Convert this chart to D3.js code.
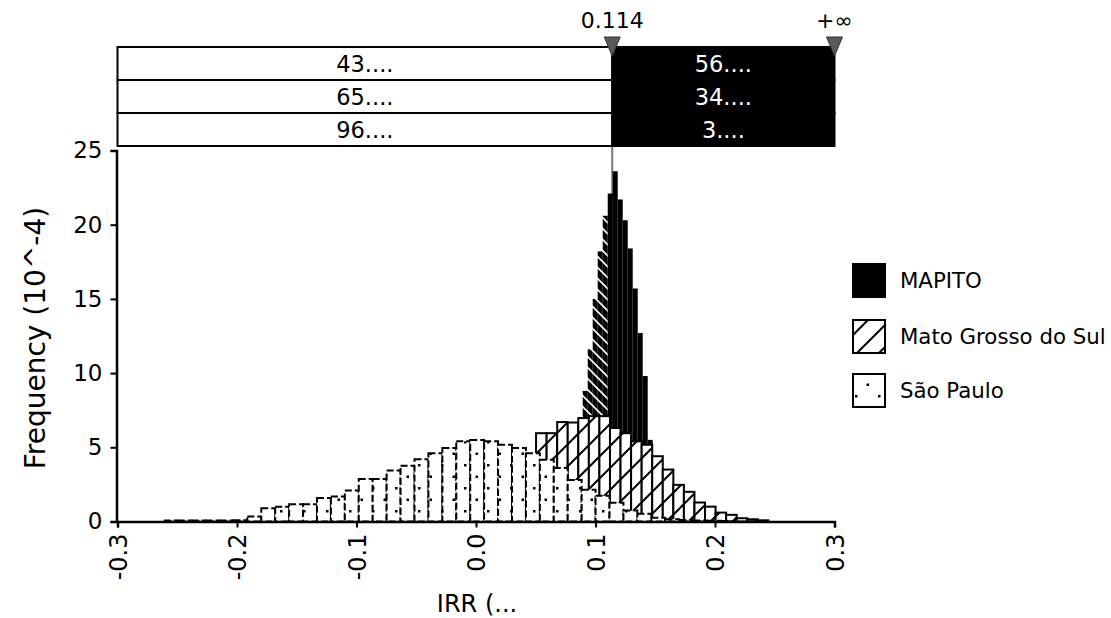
<!DOCTYPE html>
<html><head><meta charset="utf-8">
<script src="https://cdn.jsdelivr.net/npm/d3@7"></script>
<style>
html,body{margin:0;padding:0;background:#fff;}
text{font-family:"DejaVu Sans",Verdana,sans-serif;}
</style></head>
<body><svg id="c" width="1111" height="618"></svg>
<script>
// ---------------- DATA ----------------
const seriesNames = ["MAPITO", "Mato Grosso do Sul", "São Paulo"];
// histogram bins: first bin left edge (IRR), bin width (IRR), heights (10^-4)
const mapitoStart = 0.0642, mapitoWidth = 0.004184;
const mapitoValues = [0.8,1.2,1.8,2.7,4.2,6.5,8.8,11.6,15.0,18.2,20.6,22.1,23.6,21.7,20.3,18.4,15.7,12.7,9.8,5.5,3.2,1.8,1.0,0.6,0.35,0.2,0.1];
const mgsStart = -0.04695, mgsWidth = 0.008837;
const mgsValues = [0.05,0.12,0.3,0.6,1.0,1.5,2.0,2.6,3.2,3.8,4.4,5.95,5.95,6.7,6.67,6.97,7.1,7.1,6.3,5.95,5.4,5.17,4.4,3.5,2.47,2.0,1.28,1.0,0.6,0.45,0.22,0.15,0.08];
const spStart = -0.2613, spWidth = 0.011657;
const spValues = [0.06,0.06,0.06,0.06,0.07,0.08,0.34,0.9,1.0,1.17,1.17,1.58,1.69,2.09,2.86,2.86,3.44,3.75,4.2,4.6,4.95,5.4,5.5,5.4,5.17,4.95,4.6,4.16,3.6,2.8,2.14,1.73,1.27,0.74,0.52,0.25,0.15,0.1,0.07,0.05,0.03];
const xTicks = [-0.3,-0.2,-0.1,0.0,0.1,0.2,0.3];
const xTickLabels = ["-0.3","-0.2","-0.1","0.0","0.1","0.2","0.3"];
const yTicks = [0,5,10,15,20,25];
const delimiters = [0.114, 0.3];
const delimiterLabels = ["0.114", "+\u221E"];
const tableLeft = ["43....","65....","96...."];
const tableRight = ["56....","34....","3...."];
const xTitle = "IRR (...";
const yTitle = "Frequency (10^-4)";

// ---------------- CHART ----------------
const svg = d3.select("#c");
const x = d3.scaleLinear().domain([-0.3,0.3]).range([117.5,834.5]);
const y = d3.scaleLinear().domain([0,25]).range([521.5,150.5]);

const defs = svg.append("defs");
const hp = 22;
const ph = defs.append("pattern").attr("id","hatch").attr("patternUnits","userSpaceOnUse").attr("width",hp).attr("height",hp);
ph.append("rect").attr("width",hp).attr("height",hp).attr("fill","#fff");
ph.append("path").attr("d",`M-4,4 L4,-4 M0,${hp} L${hp},0 M${hp-4},${hp+4} L${hp+4},${hp-4}`).attr("stroke","#000").attr("stroke-width",2);
const pd = defs.append("pattern").attr("id","dots").attr("patternUnits","userSpaceOnUse").attr("width",23).attr("height",23);
pd.append("rect").attr("width",23).attr("height",23).attr("fill","#fff");
pd.append("rect").attr("x",4).attr("y",4).attr("width",2.5).attr("height",2.5).attr("fill","#000");
pd.append("rect").attr("x",15.5).attr("y",15.5).attr("width",2.5).attr("height",2.5).attr("fill","#000");
const ps = defs.append("pattern").attr("id","stripe").attr("patternUnits","userSpaceOnUse").attr("width",11).attr("height",11);
ps.append("rect").attr("width",11).attr("height",11).attr("fill","#000");
ps.append("path").attr("d","M-2,-2 L13,13 M-2,9 L2,13 M9,-2 L13,2").attr("stroke","#fff").attr("stroke-width",1.6);

// delimiter line (behind bars)
svg.append("line").attr("x1",x(delimiters[0])).attr("x2",x(delimiters[0]))
  .attr("y1",146).attr("y2",y(0)).attr("stroke","#777").attr("stroke-width",2);

function bins(start,width,vals){
  return vals.map((v,i)=>({x0:start+i*width, x1:start+(i+1)*width, v:v}));
}
// MAPITO (back)
svg.append("g").selectAll("rect").data(bins(mapitoStart,mapitoWidth,mapitoValues)).join("rect")
  .attr("x",d=>x(d.x0)).attr("width",d=>x(d.x1)-x(d.x0))
  .attr("y",d=>y(d.v)).attr("height",d=>y(0)-y(d.v))
  .attr("fill",d=>d.x1 <= delimiters[0] ? "url(#stripe)" : "#000");
// Mato Grosso do Sul
svg.append("g").selectAll("rect").data(bins(mgsStart,mgsWidth,mgsValues)).join("rect")
  .attr("x",d=>x(d.x0)).attr("width",d=>x(d.x1)-x(d.x0))
  .attr("y",d=>y(d.v)).attr("height",d=>y(0)-y(d.v))
  .attr("fill","url(#hatch)").attr("stroke","#000").attr("stroke-width",2);
// São Paulo (front)
svg.append("g").selectAll("rect").data(bins(spStart,spWidth,spValues)).join("rect")
  .attr("x",d=>x(d.x0)).attr("width",d=>x(d.x1)-x(d.x0))
  .attr("y",d=>y(d.v)).attr("height",d=>y(0)-y(d.v))
  .attr("fill","url(#dots)").attr("stroke","#000").attr("stroke-width",2).attr("stroke-dasharray","7,3");

// axes
const xa = svg.append("g").attr("transform",`translate(0,${y(0)})`)
  .call(d3.axisBottom(x).tickValues(xTicks).tickSize(6).tickFormat((d,i)=>xTickLabels[i]));
xa.select(".domain").attr("stroke-width",2.5);
xa.selectAll(".tick line").attr("stroke-width",2);
xa.selectAll(".tick text").attr("font-size",24).attr("font-family","DejaVu Sans")
  .attr("transform","rotate(-90)").attr("text-anchor","end").attr("x",-12).attr("y",0).attr("dy","0.36em");
const ya = svg.append("g").attr("transform",`translate(${x(-0.3)-1},0)`)
  .call(d3.axisLeft(y).tickValues(yTicks).tickSize(6));
ya.select(".domain").attr("stroke-width",2.5);
ya.selectAll(".tick line").attr("stroke-width",2);
ya.selectAll(".tick text").attr("font-size",23).attr("font-family","DejaVu Sans").attr("x",-14);

svg.append("text").attr("x",477).attr("y",612).attr("text-anchor","middle").attr("font-size",24).text(xTitle);
svg.append("text").attr("transform","translate(45,338) rotate(-90)").attr("text-anchor","middle")
  .attr("font-family","Liberation Sans, Arial, sans-serif").attr("font-size",28).text(yTitle);

// table
const tTop = 47, rowH = 33;
const xs = x(delimiters[0]);
tableLeft.forEach((t,i)=>{
  svg.append("rect").attr("x",x(-0.3)).attr("y",tTop+i*rowH).attr("width",xs-x(-0.3)).attr("height",rowH)
    .attr("fill","#fff").attr("stroke","#000").attr("stroke-width",2);
  svg.append("rect").attr("x",xs).attr("y",tTop+i*rowH).attr("width",x(0.3)-xs).attr("height",rowH)
    .attr("fill","#000").attr("stroke","#000").attr("stroke-width",2);
  svg.append("text").attr("x",(x(-0.3)+xs)/2).attr("y",tTop+i*rowH+rowH/2).attr("dy","0.36em")
    .attr("text-anchor","middle").attr("font-size",22.5).attr("fill","#000").text(t);
  svg.append("text").attr("x",(xs+x(0.3))/2).attr("y",tTop+i*rowH+rowH/2).attr("dy","0.36em")
    .attr("text-anchor","middle").attr("font-size",22.5).attr("fill","#fff").text(tableRight[i]);
});
// delimiter markers
delimiters.forEach((d,i)=>{
  const cx = x(d);
  svg.append("path").attr("d",`M${cx-8},37 L${cx+8},37 L${cx},56 Z`).attr("fill","#5a5a5a").attr("stroke","#333").attr("stroke-width",1);
  svg.append("text").attr("x",cx).attr("y",28).attr("text-anchor","middle").attr("font-size",22).text(delimiterLabels[i]);
});

// legend
const legY = [264, 320, 374];
const legFill = ["#000","url(#hatch)","url(#dots)"];
seriesNames.forEach((n,i)=>{
  svg.append("rect").attr("x",853).attr("y",legY[i]).attr("width",32).attr("height",33)
    .attr("fill",legFill[i]).attr("stroke","#000").attr("stroke-width",2);
  svg.append("text").attr("x",900).attr("y",legY[i]+16.5).attr("dy","0.36em").attr("font-size",21.3).text(n);
});
</script></body></html>
